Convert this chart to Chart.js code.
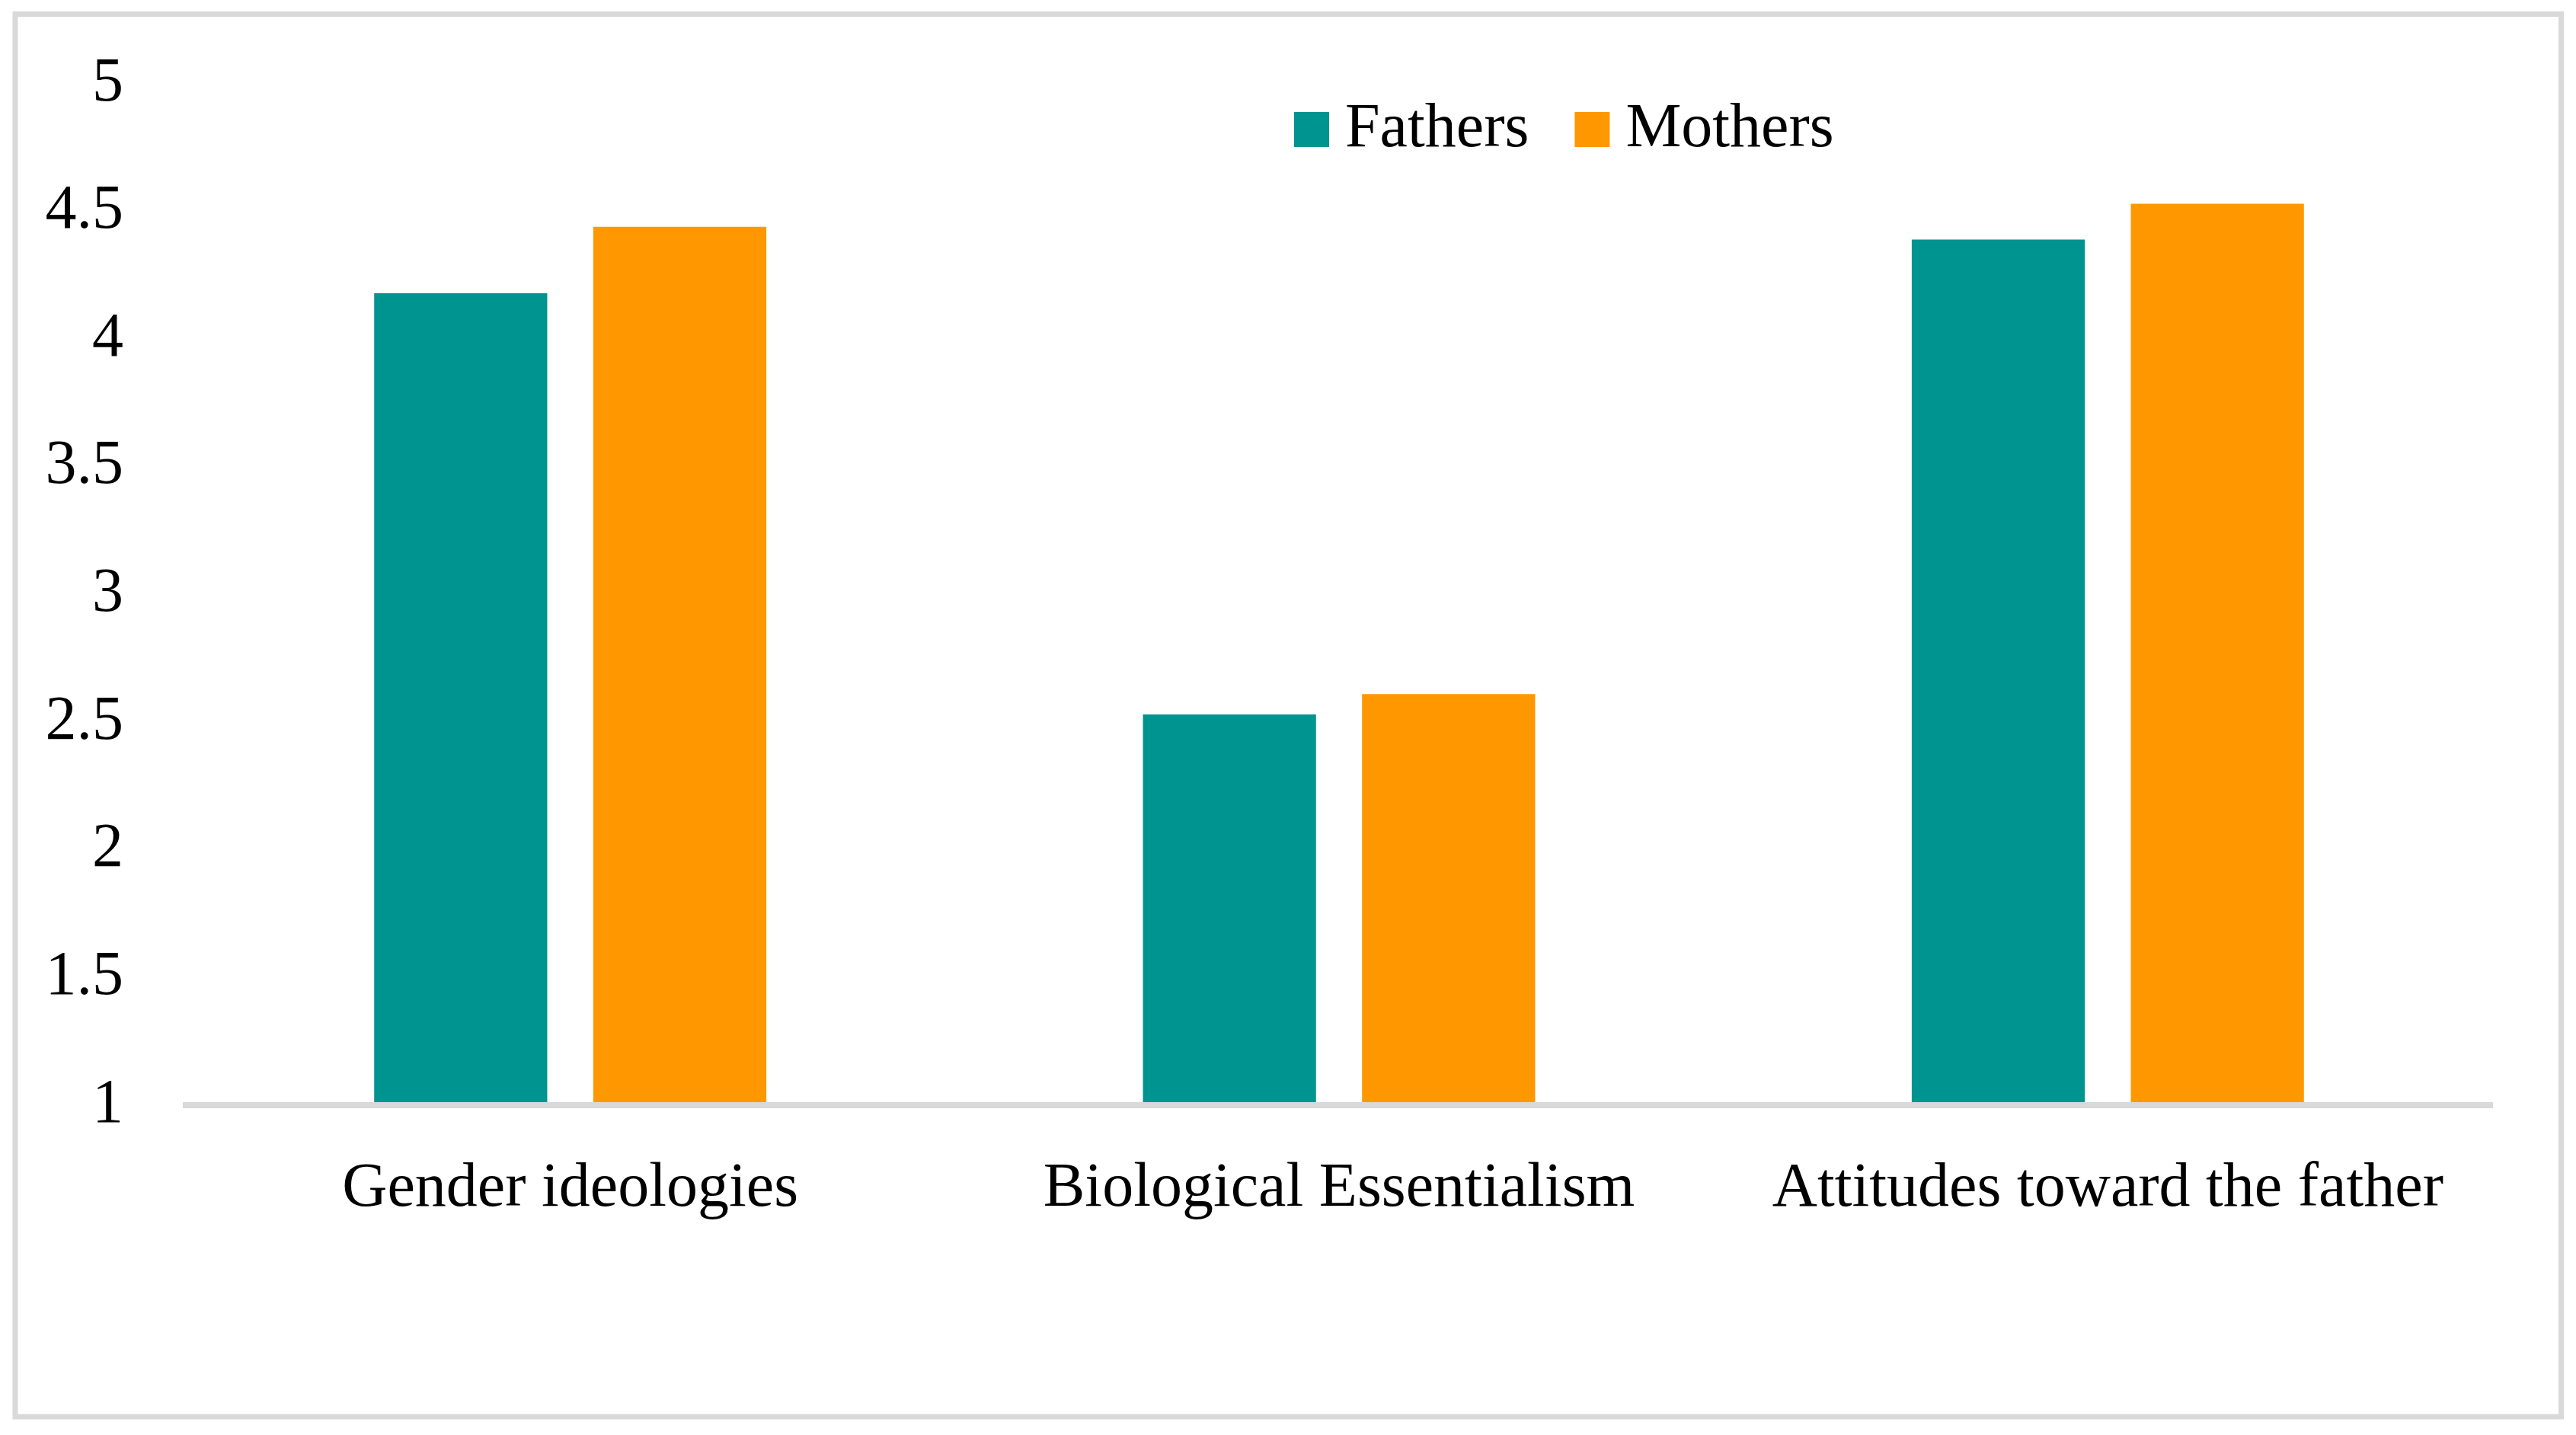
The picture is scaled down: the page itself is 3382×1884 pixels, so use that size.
<!DOCTYPE html>
<html>
<head>
<meta charset="utf-8">
<title>Fathers and Mothers</title>
<script src="https://cdn.jsdelivr.net/npm/chart.js@4.4.1/dist/chart.umd.min.js"></script>
<style>
  html, body { margin: 0; padding: 0; background: #fff; }
  #wrap { width: 3382px; height: 1884px; }
</style>
</head>
<body>
<div id="wrap"><canvas id="chart" width="3382" height="1884"></canvas></div>
<script>
// data
const categories = ['Gender ideologies', 'Biological Essentialism', 'Attitudes toward the father'];
const seriesNames = ['Fathers', 'Mothers'];
const fathersValues = [4.18, 2.53, 4.39];
const mothersValues = [4.44, 2.61, 4.53];
const yTickValues = [1, 1.5, 2, 2.5, 3, 3.5, 4, 4.5, 5];

const FONT = '"Liberation Serif", "Times New Roman", serif';
const TEAL = '#009490';
const ORANGE = '#FF9800';
const GRAY = '#D9D9D9';

Chart.defaults.color = '#000';
Chart.defaults.font.family = FONT;
Chart.defaults.font.size = 82;

// outer light gray frame + white background
const framePlugin = {
  id: 'frame',
  beforeDraw(chart) {
    const ctx = chart.ctx;
    ctx.save();
    ctx.fillStyle = '#fff';
    ctx.fillRect(0, 0, chart.width, chart.height);
    ctx.strokeStyle = GRAY;
    ctx.lineWidth = 7;
    ctx.strokeRect(20, 18.5, 3342.5, 1841.5);
    ctx.restore();
  }
};

// legend sitting inside the plot, right of centre
const legendPlugin = {
  id: 'insideLegend',
  afterDraw(chart, args, opts) {
    const ctx = chart.ctx;
    ctx.save();
    ctx.font = '82px ' + FONT;
    ctx.textBaseline = 'middle';
    ctx.textAlign = 'left';
    let x = opts.x;
    chart.data.datasets.forEach(ds => {
      ctx.fillStyle = ds.backgroundColor;
      ctx.fillRect(x, opts.y - opts.box / 2, opts.box, opts.box);
      x += opts.box + opts.textGap;
      ctx.fillStyle = '#000';
      ctx.fillText(ds.label, x, opts.y);
      x += ctx.measureText(ds.label).width + opts.itemGap;
    });
    ctx.restore();
  }
};

new Chart(document.getElementById('chart'), {
  type: 'bar',
  data: {
    labels: categories,
    datasets: [
      {
        label: seriesNames[0],
        data: fathersValues,
        backgroundColor: TEAL,
        borderWidth: 0,
        categoryPercentage: 0.57,
        barPercentage: 0.79
      },
      {
        label: seriesNames[1],
        data: mothersValues,
        backgroundColor: ORANGE,
        borderWidth: 0,
        categoryPercentage: 0.57,
        barPercentage: 0.79
      }
    ]
  },
  options: {
    responsive: false,
    devicePixelRatio: 1,
    animation: false,
    layout: { padding: { left: 0, right: 110, top: 110, bottom: 0 } },
    scales: {
      x: {
        grid: { display: false, drawTicks: false },
        border: { display: true, color: GRAY, width: 8, z: 1 },
        ticks: { padding: 61, maxRotation: 0, autoSkip: false },
        afterFit: (scale) => { scale.height = 433; }
      },
      y: {
        min: 1,
        max: 5,
        grid: { display: false, drawTicks: false },
        border: { display: false },
        ticks: { padding: 82, callback: (v) => String(v) },
        afterBuildTicks: (scale) => { scale.ticks = yTickValues.map(v => ({ value: v })); },
        afterFit: (scale) => {
          scale.width = 244;
          // tick padding should only push labels sideways, not shrink the plot
          scale.paddingTop = 0;
          scale.paddingBottom = 0;
        }
      }
    },
    plugins: {
      legend: { display: false },
      tooltip: { enabled: false },
      insideLegend: { x: 1699, y: 170, box: 46, textGap: 21, itemGap: 60 }
    }
  },
  plugins: [framePlugin, legendPlugin]
});
</script>
</body>
</html>
